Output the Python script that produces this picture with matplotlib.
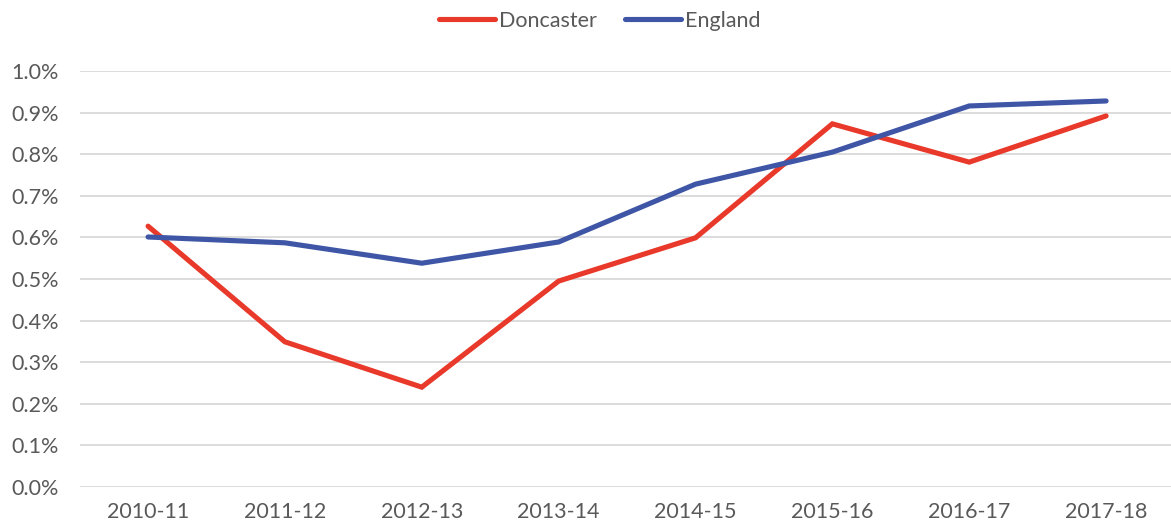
import matplotlib.pyplot as plt
from matplotlib.ticker import FuncFormatter

plt.rcParams["font.family"] = ["Lato", "DejaVu Sans"]

years = ["2010-11", "2011-12", "2012-13", "2013-14",
         "2014-15", "2015-16", "2016-17", "2017-18"]
doncaster = [0.627, 0.349, 0.240, 0.495, 0.599, 0.873, 0.781, 0.892]
england = [0.601, 0.587, 0.538, 0.589, 0.728, 0.805, 0.916, 0.928]

text_col = "#595959"
grid_col = "#d9d9d9"

fig = plt.figure(figsize=(11.71, 5.32), dpi=100)
ax = fig.add_axes([0.068, 0.0846, 0.935, 0.7819])

x = range(len(years))
ax.plot(x, doncaster, color="#E8392A", lw=3.7, solid_capstyle="round",
        solid_joinstyle="miter", label="Doncaster")
ax.plot(x, england, color="#3F56A6", lw=3.7, solid_capstyle="round",
        solid_joinstyle="miter", label="England")

ax.set_xlim(-0.5, len(years) - 0.5)
ax.set_ylim(0, 1.0)
ax.set_yticks([i / 10 for i in range(11)])
ax.yaxis.set_major_formatter(FuncFormatter(lambda v, p: f"{v:.1f}%"))
ax.set_xticks(list(x))
ax.set_xticklabels(years)

ax.grid(axis="y", color=grid_col, lw=1.3)
ax.set_axisbelow(True)
for s in ax.spines.values():
    s.set_visible(False)
ax.tick_params(axis="both", length=0, labelsize=15.5, colors=text_col)
ax.tick_params(axis="y", pad=15)
ax.tick_params(axis="x", pad=11)

leg = fig.legend(loc="upper center", bbox_to_anchor=(0.512, 1.016), ncol=2,
                 frameon=False, fontsize=15.5, handlelength=2.6,
                 handletextpad=0.2, columnspacing=1.3)
for t in leg.get_texts():
    t.set_color(text_col)

fig.savefig("out.png", dpi=100)
